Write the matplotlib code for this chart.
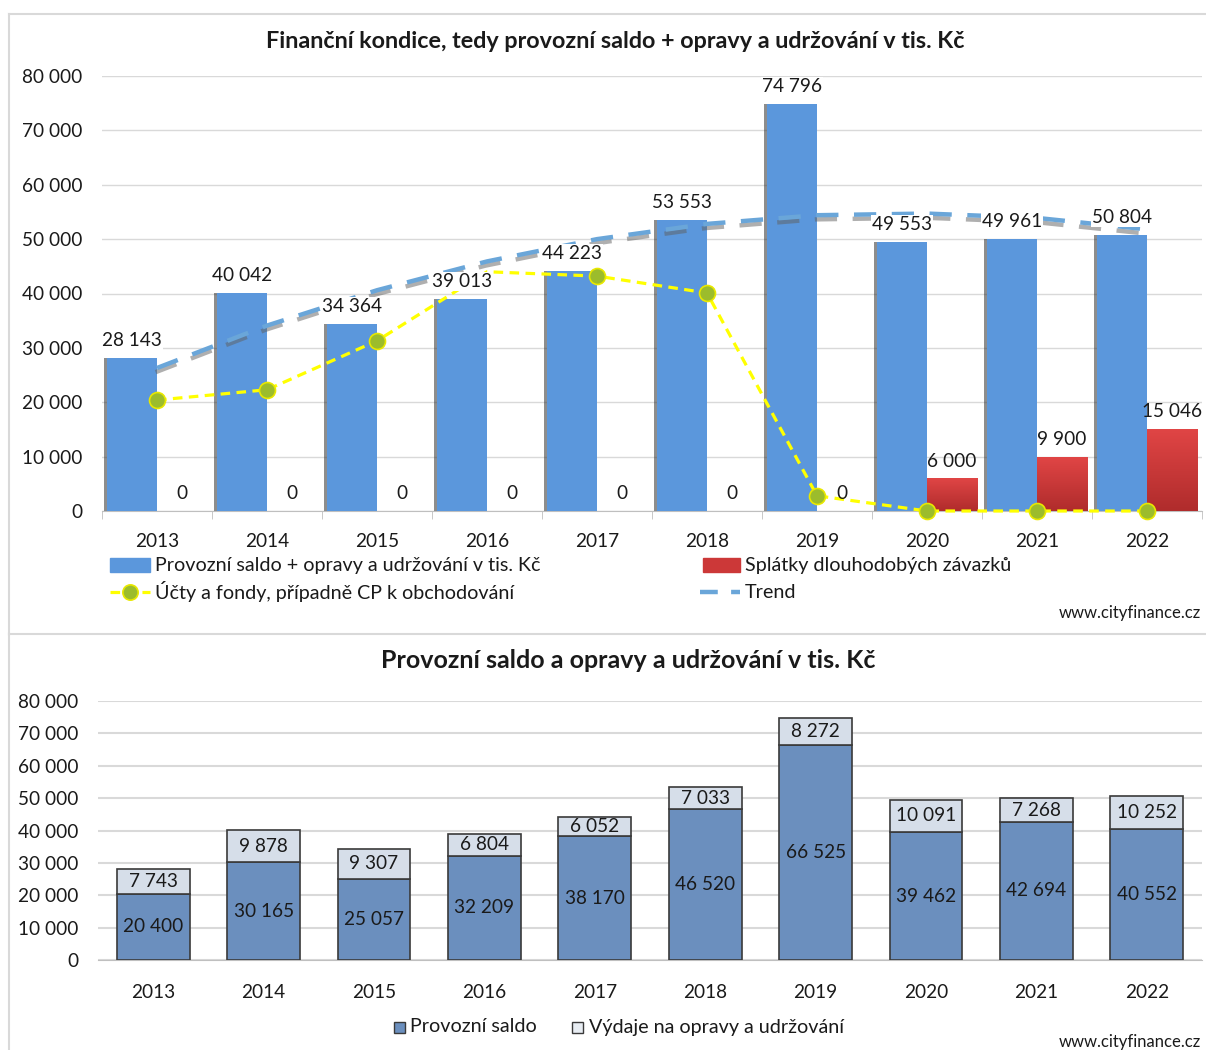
import numpy as np
import matplotlib.pyplot as plt
from matplotlib.patches import Rectangle
from matplotlib.lines import Line2D
import matplotlib.patheffects as pe

plt.rcParams['font.family'] = ['Lato', 'DejaVu Sans']

# data
years = ['2013', '2014', '2015', '2016', '2017', '2018', '2019', '2020', '2021', '2022']
saldo_opravy = [28143, 40042, 34364, 39013, 44223, 53553, 74796, 49553, 49961, 50804]
splatky = [0, 0, 0, 0, 0, 0, 0, 6000, 9900, 15046]
ucty_fondy = [20400, 22300, 31300, 44000, 43200, 40100, 2800, 0, 0, 0]
trend = [26300, 34100, 40600, 45900, 50000, 52800, 54400, 54700, 53900, 51800]
provozni_saldo = [20400, 30165, 25057, 32209, 38170, 46520, 66525, 39462, 42694, 40552]
vydaje_opravy = [7743, 9878, 9307, 6804, 6052, 7033, 8272, 10091, 7268, 10252]
yticks = [0, 10000, 20000, 30000, 40000, 50000, 60000, 70000, 80000]

W, H = 1206, 1050
TXT = '#1a1a1a'
GRID = '#d9d9d9'
FS = 13.7
FS_LEG = 14.2


def fmt(v):
    return f'{v:,}'.replace(',', ' ')


def fx(px):
    return px / W


def fy(py):
    return 1 - py / H


fig = plt.figure(figsize=(W / 100, H / 100), dpi=100)

# panel borders
for (x0, y0, x1, y1) in [(9, 14, 1210, 14), (9, 14, 9, 634), (9, 634, 1210, 634), (9, 634, 9, 1052)]:
    fig.add_artist(Line2D([fx(x0), fx(x1)], [fy(y0), fy(y1)], color=GRID, lw=1.5))

# ---------------- top chart ----------------
ax = fig.add_axes([fx(102), fy(511), fx(1202) - fx(102), fy(76) - fy(511)])
x = np.arange(len(years))
bw = 0.455

ax.bar(x - bw / 2 - 0.03, saldo_opravy, bw, color='#303030', alpha=0.55, zorder=2, lw=0)
ax.bar(x - bw / 2, saldo_opravy, bw, color='#5b97dc', zorder=3, lw=0)

grad = np.linspace(0, 1, 64).reshape(-1, 1)
red_cmap = plt.matplotlib.colors.LinearSegmentedColormap.from_list('r', ['#e04545', '#b02c2c'])
for xi, v in zip(x, splatky):
    if v > 0:
        ax.imshow(grad, extent=(xi, xi + bw, 0, v), aspect='auto', cmap=red_cmap,
                  origin='upper', zorder=3)

ax.plot(x, trend, color='#6aa6d9', lw=3.2, dashes=(5, 3.5), zorder=4,
        path_effects=[pe.SimpleLineShadow(offset=(-1, -3), shadow_color='#606060', alpha=0.5),
                      pe.Normal()])
ax.plot(x, ucty_fondy, color='#ffff00', lw=2.3, dashes=(3, 2), zorder=5, clip_on=False,
        marker='o', markersize=11.5, markerfacecolor='#9cbc2c', markeredgecolor='#e8e800',
        markeredgewidth=1.2, markevery=[0, 1, 2, 4, 5, 6, 7, 8, 9])

lbl_box = dict(boxstyle='square,pad=0.05', fc='white', ec='none')
for xi, v in zip(x, saldo_opravy):
    ax.annotate(fmt(v), (xi - bw / 2, v), xytext=(0, 12.5), textcoords='offset points',
                ha='center', va='center', fontsize=FS, color=TXT, zorder=6, bbox=lbl_box)
for xi, v in zip(x, splatky):
    ax.annotate(fmt(v), (xi + bw / 2, v), xytext=(0, 12.5), textcoords='offset points',
                ha='center', va='center', fontsize=FS, color=TXT, zorder=6)

ax.set_xlim(-0.5, len(years) - 0.5)
ax.set_ylim(0, 80000)
ax.set_yticks(yticks)
ax.set_yticklabels([fmt(v) for v in yticks], fontsize=FS, color=TXT)
ax.set_xticks(x)
ax.set_xticklabels(years, fontsize=FS, color=TXT)
ax.set_xticks(np.arange(len(years) + 1) - 0.5, minor=True)
ax.tick_params(axis='y', length=0, pad=14)
ax.tick_params(axis='x', which='major', length=0, pad=16)
ax.tick_params(axis='x', which='minor', length=6, color='#bfbfbf')
ax.grid(axis='y', color=GRID, lw=1, zorder=0)
ax.set_axisbelow(True)
for s in ['left', 'top', 'right']:
    ax.spines[s].set_visible(False)
ax.spines['bottom'].set_color('#bfbfbf')

fig.text(fx(615), fy(42), 'Finanční kondice, tedy provozní saldo + opravy a udržování v tis. Kč',
         ha='center', va='center', fontsize=16.8, fontweight='bold', color=TXT)

# top legend
fig.add_artist(Rectangle((fx(110), fy(572)), fx(40), fy(558) - fy(572), color='#5b97dc'))
fig.text(fx(155), fy(565), 'Provozní saldo + opravy a udržování v tis. Kč', ha='left', va='center',
         fontsize=FS_LEG, color=TXT)
fig.add_artist(Rectangle((fx(703), fy(572)), fx(37), fy(558) - fy(572), color='#cc3838'))
fig.text(fx(745), fy(565), 'Splátky dlouhodobých závazků', ha='left', va='center',
         fontsize=FS_LEG, color=TXT)
fig.add_artist(Line2D([fx(110), fx(150)], [fy(592), fy(592)], color='#ffff00', lw=2.3, dashes=(3, 2)))
fig.add_artist(Line2D([fx(130)], [fy(592)], marker='o', markersize=11, markerfacecolor='#9cbc2c',
                      markeredgecolor='#e8e800', markeredgewidth=1.2, lw=0))
fig.text(fx(155), fy(592), 'Účty a fondy, případně CP k obchodování', ha='left', va='center',
         fontsize=FS_LEG, color=TXT)
fig.add_artist(Line2D([fx(700), fx(740)], [fy(592), fy(592)], color='#6aa6d9', lw=3.2, dashes=(4, 3)))
fig.text(fx(745), fy(592), 'Trend', ha='left', va='center', fontsize=FS_LEG, color=TXT)
fig.text(fx(1201), fy(613), 'www.cityfinance.cz', ha='right', va='center', fontsize=12, color=TXT)

# ---------------- bottom chart ----------------
ax2 = fig.add_axes([fx(98), fy(960), fx(1202) - fx(98), fy(701) - fy(960)])
bw2 = 0.66
ax2.bar(x, provozni_saldo, bw2, color='#6b8fbe', edgecolor='#3a3a3a', lw=1.2, zorder=3)
ax2.bar(x, vydaje_opravy, bw2, bottom=provozni_saldo, color='#d6dee9', edgecolor='#3a3a3a',
        lw=1.2, zorder=3)
for xi, a, b in zip(x, provozni_saldo, vydaje_opravy):
    ax2.text(xi, a / 2, fmt(a), ha='center', va='center', fontsize=FS, color=TXT, zorder=4)
    ax2.text(xi, a + b / 2, fmt(b), ha='center', va='center', fontsize=FS, color=TXT, zorder=4)

ax2.set_xlim(-0.5, len(years) - 0.5)
ax2.set_ylim(0, 80000)
ax2.set_yticks(yticks)
ax2.set_yticklabels([fmt(v) for v in yticks], fontsize=FS, color=TXT)
ax2.set_xticks(x)
ax2.set_xticklabels(years, fontsize=FS, color=TXT)
ax2.tick_params(axis='y', length=0, pad=14)
ax2.tick_params(axis='x', length=0, pad=17)
ax2.grid(axis='y', color=GRID, lw=1.5, zorder=0)
ax2.set_axisbelow(True)
for s in ['left', 'top', 'right']:
    ax2.spines[s].set_visible(False)
ax2.spines['bottom'].set_color('#bfbfbf')

fig.text(fx(628), fy(660), 'Provozní saldo a opravy a udržování v tis. Kč',
         ha='center', va='center', fontsize=18, fontweight='bold', color=TXT)

# bottom legend
fig.add_artist(Rectangle((fx(394), fy(1033)), fx(11), fy(1022) - fy(1033), facecolor='#6b8fbe',
                         edgecolor='#3a3a3a', lw=1))
fig.text(fx(410), fy(1027), 'Provozní saldo', ha='left', va='center', fontsize=FS_LEG, color=TXT)
fig.add_artist(Rectangle((fx(572), fy(1033)), fx(11), fy(1022) - fy(1033), facecolor='#e8edf3',
                         edgecolor='#3a3a3a', lw=1))
fig.text(fx(589), fy(1027), 'Výdaje na opravy a udržování', ha='left', va='center', fontsize=FS_LEG,
         color=TXT)
fig.text(fx(1201), fy(1042), 'www.cityfinance.cz', ha='right', va='center', fontsize=12, color=TXT)

fig.savefig('out.png', dpi=100)
